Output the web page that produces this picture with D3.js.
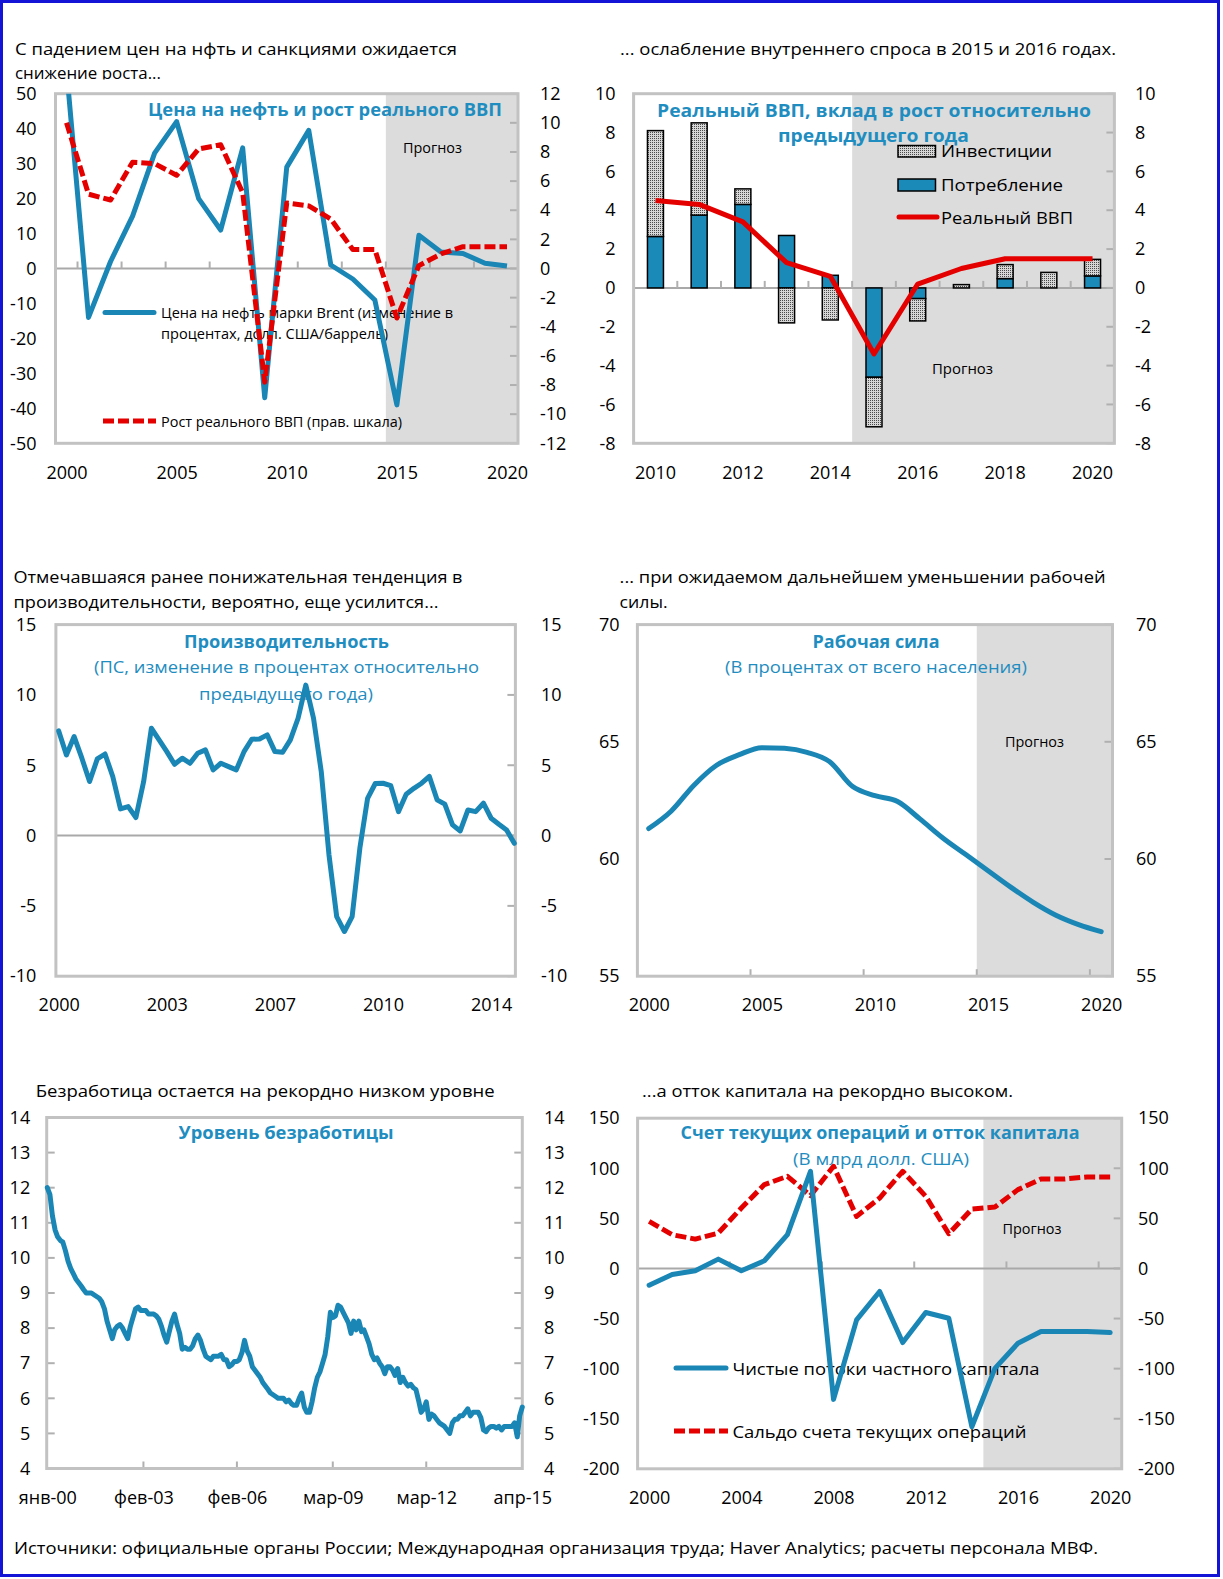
<!DOCTYPE html>
<html><head><meta charset="utf-8">
<script src="https://cdn.jsdelivr.net/npm/d3@7"></script>
<style>body{margin:0;background:#fff}svg{display:block}</style>
</head><body>
<svg id="c" width="1223" height="1579"></svg>
<script>
// ================= DATA =================
// Panel 1: oil price & real GDP growth
const oilYears = [2000,2001,2002,2003,2004,2005,2006,2007,2008,2009,2010,2011,2012,2013,2014,2015,2016,2017,2018,2019,2020];
const oilPrice = [57,-14,2,15,33,42,20,11,34.5,-37,29,39.5,1,-3,-9,-39,9.5,4.7,4.3,1.5,0.7];
const gdpGrowth = [10.0,5.1,4.7,7.3,7.2,6.4,8.2,8.5,5.2,-7.8,4.5,4.3,3.4,1.3,1.3,-3.4,0.2,1.0,1.5,1.5,1.5];
const p1LeftTicks = [-50,-40,-30,-20,-10,0,10,20,30,40,50];
const p1RightTicks = [-12,-10,-8,-6,-4,-2,0,2,4,6,8,10,12];
const p1XLabels = [2000,2005,2010,2015,2020];
const p1ZeroTickYears = [2001,2003,2005,2007,2009,2011,2013,2015,2017,2019];

// Panel 2: contributions to growth
const demandYears = [2010,2011,2012,2013,2014,2015,2016,2017,2018,2019,2020];
const consumption = [2.65,3.75,4.3,2.7,0.65,-4.6,-0.55,0,0.48,0,0.62];
const investment  = [5.45,4.75,0.8,-1.8,-1.65,-2.55,-1.15,0.17,0.72,0.8,0.85];
const realGdp     = [4.5,4.3,3.4,1.3,0.6,-3.4,0.2,1.0,1.5,1.5,1.5];
const p2Ticks = [-8,-6,-4,-2,0,2,4,6,8,10];
const p2XLabels = [2010,2012,2014,2016,2018,2020];

// Panel 3: productivity (quarterly, 2000Q1-2014Q4)
const productivity = [7.44,5.73,7.04,5.5,3.84,5.45,5.8,4.2,1.9,2.06,
  1.28,3.84,7.63,6.8,5.97,5.07,5.5,5.14,5.85,6.09,
  4.67,5.14,4.9,4.67,5.97,6.85,6.87,7.16,5.97,5.92,
  6.8,8.34,10.7,8.34,4.55,-1.37,-5.76,-6.82,-5.76,-0.9,
  2.65,3.7,3.72,3.55,1.7,2.94,3.36,3.72,4.2,2.54,
  2.23,0.76,0.33,1.82,1.7,2.3,1.23,0.8,0.4,-0.55];
const prodLabelIdx = [0,14,28,42,56];
const prodLabels = ["2000","2003","2007","2010","2014"];
const p3Ticks = [-10,-5,0,5,10,15];

// Panel 4: labour force
const laborYears = [2000,2001,2002,2003,2004,2005,2006,2007,2008,2009,2010,2011,2012,2013,2014,2015,2016,2017,2018,2019,2020];
const laborForce = [61.3,62.05,63.15,64.0,64.45,64.75,64.72,64.55,64.15,63.1,62.7,62.45,61.7,60.9,60.2,59.5,58.8,58.15,57.6,57.2,56.9];
const p4Ticks = [55,60,65,70];
const p4XLabels = [2000,2005,2010,2015,2020];
const p4BottomTickYears = [2005,2010,2015,2020];

// Panel 5: unemployment (monthly, Jan 2000 - Apr 2015)
const unempStart = [2000,0];
const unemployment = [
  12.0,11.8,11.2,10.8,10.6,10.5,10.45,10.2,9.9,9.7,
  9.55,9.4,9.3,9.2,9.1,9.0,9.0,9.0,8.95,8.9,
  8.85,8.75,8.55,8.2,7.95,7.7,7.95,8.05,8.1,8.0,
  7.85,7.7,8.05,8.3,8.55,8.6,8.5,8.5,8.5,8.4,
  8.4,8.4,8.35,8.25,8.05,7.8,7.6,7.9,8.2,8.4,
  8.1,7.85,7.4,7.45,7.4,7.4,7.5,7.7,7.8,7.65,
  7.4,7.2,7.15,7.1,7.2,7.2,7.2,7.25,7.1,7.1,
  6.9,6.95,7.05,7.05,7.1,7.3,7.65,7.35,7.2,6.9,
  6.8,6.7,6.6,6.45,6.35,6.25,6.15,6.1,6.05,6.0,
  6.0,6.0,5.9,5.95,5.85,5.8,5.8,6.0,6.15,5.75,
  5.6,5.6,5.9,6.3,6.6,6.75,7.0,7.25,7.75,8.45,
  8.3,8.35,8.65,8.6,8.45,8.3,8.15,7.85,8.2,7.95,
  8.2,7.9,7.95,7.75,7.55,7.25,7.1,7.15,7.0,6.9,
  6.7,6.9,6.9,6.8,6.65,6.85,6.45,6.6,6.45,6.35,
  6.4,6.3,6.25,5.95,5.6,5.7,5.9,5.4,5.55,5.5,
  5.4,5.3,5.25,5.2,5.1,5.0,5.3,5.4,5.4,5.5,
  5.5,5.6,5.7,5.5,5.6,5.6,5.6,5.45,5.1,5.05,
  5.15,5.2,5.2,5.15,5.2,5.1,5.2,5.2,5.2,5.2,
  5.3,4.9,5.5,5.75];
const unempTickDates = [[2000,0],[2003,1],[2006,1],[2009,2],[2012,2],[2015,3]];
const unempTickLabels = ["янв-00","фев-03","фев-06","мар-09","мар-12","апр-15"];
const p5Ticks = [4,5,6,7,8,9,10,11,12,13,14];

// Panel 6: current account and capital flows
const bopYears = [2000,2001,2002,2003,2004,2005,2006,2007,2008,2009,2010,2011,2012,2013,2014,2015,2016,2017,2018,2019,2020];
const capitalFlows = [-16.7,-6,-2.3,9.3,-2.3,7.7,33.7,97,-130.7,-51.3,-23,-74,-44,-49.7,-158,-99.7,-74.7,-63,-63,-63,-64];
const currentAccount = [47,33.7,29.3,35.3,60.3,83.7,92,72.7,102,52,70.3,97,72,34.7,59.3,61.3,78.7,89.3,89.3,91.3,91.3];
const p6Ticks = [-200,-150,-100,-50,0,50,100,150];
const p6XLabels = [2000,2004,2008,2012,2016,2020];
const p6ZeroTickYears = [2004,2008,2012,2016,2020];

// ================= STYLE =================
const FONT = '"Open Sans","Noto Sans",sans-serif';
const TEAL = "#1a86b6", TITLEC = "#1f8dc0", RED = "#e50000";
const SHADE = "#dcdcdc", FRAMEC = "#c2c2c2", ZEROC = "#a9a9a9", TICKC = "#b0b0b0";
const BAR_C = "#1a8ab8";
const LW = 5;

const svg = d3.select("#c").attr("font-family", FONT);
const defs = svg.append("defs");
const pat = defs.append("pattern").attr("id","stip").attr("width",2).attr("height",2).attr("patternUnits","userSpaceOnUse");
pat.append("rect").attr("width",2).attr("height",2).attr("fill","#d6d6d6");
pat.append("rect").attr("width",1).attr("height",1).attr("fill","#4a4a4a");

let clipN = 0;
function clipRect(L,R,T,B){
  const id = "cl"+(clipN++);
  defs.append("clipPath").attr("id",id).append("rect").attr("x",L).attr("y",T).attr("width",R-L).attr("height",B-T);
  return "url(#"+id+")";
}
function txt(g, s, x, y, o={}){
  const t = g.append("text").attr("x",x).attr("y",y).text(s)
    .attr("font-size", o.size||17).attr("fill", o.fill||"#000");
  if (o.bold) t.attr("font-weight","bold");
  if (o.anchor) t.attr("text-anchor", o.anchor);
  if (o.len) t.attr("textLength", o.len).attr("lengthAdjust","spacingAndGlyphs");
  return t;
}
function frame(g,L,R,T,B){
  g.append("rect").attr("x",L).attr("y",T).attr("width",R-L).attr("height",B-T)
   .attr("fill","none").attr("stroke",FRAMEC).attr("stroke-width",3);
}
function shade(g,x0,R,T,B){
  g.append("rect").attr("x",x0).attr("y",T).attr("width",R-x0).attr("height",B-T).attr("fill",SHADE);
}
function hline(g,L,R,y){
  g.append("line").attr("x1",L).attr("x2",R).attr("y1",y).attr("y2",y).attr("stroke",ZEROC).attr("stroke-width",2);
}
function vticks(g, xs, y, len){
  g.selectAll(null).data(xs).enter().append("line")
   .attr("x1",d=>d).attr("x2",d=>d).attr("y1",y).attr("y2",y-len)
   .attr("stroke",TICKC).attr("stroke-width",2);
}
function hticks(g, ys, x, len){
  g.selectAll(null).data(ys).enter().append("line")
   .attr("x1",x).attr("x2",x+len).attr("y1",d=>d).attr("y2",d=>d)
   .attr("stroke",TICKC).attr("stroke-width",2);
}
function yLabels(g, scale, vals, xPos, side){
  const ax = (side==="left"?d3.axisLeft(scale):d3.axisRight(scale))
    .tickValues(vals).tickSize(0).tickPadding(0).tickFormat(d=>String(d));
  const a = g.append("g").attr("transform",`translate(${xPos},0)`).call(ax);
  a.select(".domain").remove();
  a.attr("font-family",FONT).attr("font-size",18);
  a.selectAll("text").attr("fill","#000");
}
function xLabels(g, scale, vals, yBase, fmt){
  const ax = d3.axisBottom(scale).tickValues(vals).tickSize(0).tickPadding(0).tickFormat(fmt||(d=>String(d)));
  const a = g.append("g").attr("transform",`translate(0,${yBase})`).call(ax);
  a.select(".domain").remove();
  a.attr("font-family",FONT).attr("font-size",18);
  a.selectAll("text").attr("dy",null).attr("y",0).attr("fill","#000");
}
function legendLine(g, x1, x2, y, color, dash){
  g.append("line").attr("x1",x1).attr("x2",x2).attr("y1",y).attr("y2",y)
   .attr("stroke",color).attr("stroke-width",LW).attr("stroke-linecap",dash?"butt":"round")
   .attr("stroke-dasharray",dash||null);
}

// outer blue border
svg.append("rect").attr("x",1.5).attr("y",1.5).attr("width",1217).attr("height",1574)
  .attr("fill","none").attr("stroke","#1414d6").attr("stroke-width",3);

// ================= PANEL 1 =================
{
  const L=55.5,R=518,T=93.7,B=443.3;
  const g = svg.append("g");
  const x = d3.scalePoint().domain(oilYears).range([L,R]).padding(0.5);
  const yL = d3.scaleLinear().domain([-50,50]).range([B,T]);
  const yR = d3.scaleLinear().domain([-12,12]).range([B,T]);
  const capClip = clipRect(0,600,30,79.5);
  txt(g,"С падением цен на нфть и санкциями ожидается",15,55,{len:442});
  txt(g,"снижение роста...",15,79,{len:146,size:16.5}).attr("clip-path",capClip);
  shade(g, x(2015)-x.step()/2, R, T, B);
  hline(g,L,R,yL(0));
  vticks(g, p1ZeroTickYears.map(d=>x(d)-x.step()/2), yL(0), 7);
  hticks(g, p1RightTicks.map(d=>yR(d)), R-8, 8);
  frame(g,L,R,T,B);
  yLabels(g,yL,p1LeftTicks,36.5,"left");
  yLabels(g,yR,p1RightTicks,540,"right");
  xLabels(g,x,p1XLabels,479);
  txt(g,"Цена на нефть и рост реального ВВП",148,116,{bold:true,fill:TITLEC,size:18,len:354});
  txt(g,"Прогноз",403,153,{size:14,len:59});
  txt(g,"Цена на нефть марки Brent (изменение в",161,317.5,{size:14,len:292});
  txt(g,"процентах, долл. США/баррель)",161,339,{size:14,len:227});
  txt(g,"Рост реального ВВП (прав. шкала)",161,427,{size:14,len:241});
  legendLine(g,105,154,312.5,TEAL);
  legendLine(g,103,156,421,RED,"11,4");
  const cp = clipRect(L,R,T,B);
  const data = g.append("g").attr("clip-path",cp);
  data.append("path").datum(oilPrice).attr("fill","none").attr("stroke",TEAL).attr("stroke-width",LW)
    .attr("stroke-linejoin","round")
    .attr("d",d3.line().x((d,i)=>x(oilYears[i])).y(d=>yL(d)));
  data.append("path").datum(gdpGrowth).attr("fill","none").attr("stroke",RED).attr("stroke-width",LW)
    .attr("stroke-dasharray","11,4").attr("stroke-linejoin","round")
    .attr("d",d3.line().x((d,i)=>x(oilYears[i])).y(d=>yR(d)));
}

// ================= PANEL 2 =================
{
  const L=633.6,R=1114.4,T=93.7,B=443.3;
  const g = svg.append("g");
  const x = d3.scaleBand().domain(demandYears).range([L,R]).paddingInner(0.634).paddingOuter(0.317);
  const y = d3.scaleLinear().domain([-8,10]).range([B,T]);
  txt(g,"... ослабление внутреннего спроса в 2015 и  2016 годах.",620,55,{len:496});
  const step = x.step();
  shade(g, x(2015)+x.bandwidth()/2-step/2, R, T, B);
  hline(g,L,R,y(0));
  vticks(g, demandYears.slice(1).map(d=>x(d)+x.bandwidth()/2-step/2), y(0), 7);
  hticks(g, p2Ticks.map(d=>y(d)), R-8, 8);
  frame(g,L,R,T,B);
  yLabels(g,y,p2Ticks,615.5,"left");
  yLabels(g,y,p2Ticks,1135,"right");
  xLabels(g,x,p2XLabels,479);
  txt(g,"Реальный ВВП, вклад в рост относительно",657,117,{bold:true,fill:TITLEC,size:18,len:434});
  txt(g,"предыдущего года",778,142,{bold:true,fill:TITLEC,size:18,len:191});
  txt(g,"Прогноз",932,374,{size:14,len:61});
  // bars
  const rows = demandYears.map((yr,i)=>({year:yr, cons:consumption[i], inv:investment[i]}));
  const series = d3.stack().keys(["cons","inv"]).offset(d3.stackOffsetDiverging)(rows);
  series.forEach(s=>{
    const fill = s.key==="cons"?BAR_C:"url(#stip)";
    g.selectAll(null).data(s.filter(d=>Math.abs(d[1]-d[0])>0.01)).enter().append("rect")
      .attr("x",d=>x(d.data.year)).attr("width",x.bandwidth())
      .attr("y",d=>y(Math.max(d[0],d[1]))).attr("height",d=>Math.abs(y(d[0])-y(d[1])))
      .attr("fill",fill).attr("stroke","#000").attr("stroke-width",1.5);
  });
  g.append("path").datum(realGdp).attr("fill","none").attr("stroke",RED).attr("stroke-width",5)
    .attr("stroke-linejoin","round")
    .attr("d",d3.line().x((d,i)=>x(demandYears[i])+x.bandwidth()/2).y(d=>y(d)));
  // legend
  g.append("rect").attr("x",898).attr("y",145.5).attr("width",37.5).attr("height",11.5).attr("fill","url(#stip)").attr("stroke","#000").attr("stroke-width",1.5);
  g.append("rect").attr("x",898).attr("y",179).attr("width",37.5).attr("height",12).attr("fill",BAR_C).attr("stroke","#000").attr("stroke-width",1.5);
  legendLine(g,899,937,217,RED);
  txt(g,"Инвестиции",941,157,{len:111});
  txt(g,"Потребление",941,190.5,{len:122});
  txt(g,"Реальный ВВП",941,224,{len:132});
}

// ================= PANEL 3 =================
{
  const L=55.9,R=515.4,T=624.6,B=976.2;
  const g = svg.append("g");
  const x = d3.scalePoint().domain(productivity.map((d,i)=>i)).range([58.7,514.3]);
  const y = d3.scaleLinear().domain([-10,15]).range([B,T]);
  txt(g,"Отмечавшаяся ранее понижательная тенденция в",13.5,583,{len:449});
  txt(g,"производительности, вероятно, еще усилится...",13.5,608,{len:425});
  hline(g,L,R,y(0));
  hticks(g, p3Ticks.map(d=>y(d)), R-8, 8);
  frame(g,L,R,T,B);
  yLabels(g,y,p3Ticks,36.3,"left");
  yLabels(g,y,p3Ticks,541,"right");
  xLabels(g,x,prodLabelIdx,1011,(d,i)=>prodLabels[i]);
  txt(g,"Производительность",184,648,{bold:true,fill:TITLEC,size:18,len:205});
  txt(g,"(ПС, изменение в процентах относительно",94,673,{fill:TITLEC,size:17,len:385});
  txt(g,"предыдущего года)",199,699.5,{fill:TITLEC,size:17,len:174});
  g.append("path").datum(productivity).attr("fill","none").attr("stroke",TEAL).attr("stroke-width",LW)
    .attr("stroke-linejoin","round").attr("stroke-linecap","round")
    .attr("d",d3.line().x((d,i)=>x(i)).y(d=>y(d)));
}

// ================= PANEL 4 =================
{
  const L=637.4,R=1112.5,T=624.6,B=976.2;
  const g = svg.append("g");
  const x = d3.scalePoint().domain(laborYears).range([L,R]).padding(0.5);
  const y = d3.scaleLinear().domain([55,70]).range([B,T]);
  txt(g,"... при ожидаемом дальнейшем уменьшении рабочей",619.6,583,{len:486});
  txt(g,"силы.",619.6,608,{len:48});
  shade(g, x(2015)-x.step()/2, R, T, B);
  vticks(g, p4BottomTickYears.map(d=>x(d)-x.step()/2), B, 7);
  hticks(g, p4Ticks.map(d=>y(d)), R-8, 8);
  frame(g,L,R,T,B);
  yLabels(g,y,p4Ticks,619.6,"left");
  yLabels(g,y,p4Ticks,1136,"right");
  xLabels(g,x,p4XLabels,1011);
  txt(g,"Рабочая сила",812.5,648,{bold:true,fill:TITLEC,size:18,len:127});
  txt(g,"(В процентах от всего населения)",725,673,{fill:TITLEC,size:17,len:302});
  txt(g,"Прогноз",1005,746.5,{size:14,len:59});
  g.append("path").datum(laborForce).attr("fill","none").attr("stroke",TEAL).attr("stroke-width",LW)
    .attr("stroke-linejoin","round").attr("stroke-linecap","round")
    .attr("d",d3.line().x((d,i)=>x(laborYears[i])).y(d=>y(d)).curve(d3.curveMonotoneX));
}

// ================= PANEL 5 =================
{
  const L=46.7,R=522.3,T=1117.5,B=1468.5;
  const g = svg.append("g");
  const start = new Date(unempStart[0],unempStart[1],1);
  const dates = unemployment.map((d,i)=>d3.timeMonth.offset(start,i));
  const tickDates = unempTickDates.map(d=>new Date(d[0],d[1],1));
  const x = d3.scaleTime().domain([dates[0],dates[dates.length-1]]).range([47.3,522.3]);
  const y = d3.scaleLinear().domain([4,14]).range([B,T]);
  txt(g,"Безработица остается на рекордно низком уровне",35.7,1097,{len:459});
  vticks(g, tickDates.slice(1,5).map(d=>x(d)), B, 7);
  hticks(g, p5Ticks.map(d=>y(d)), L, 8);
  hticks(g, p5Ticks.map(d=>y(d)), R-8, 8);
  frame(g,L,R,T,B);
  yLabels(g,y,p5Ticks,30.2,"left");
  yLabels(g,y,p5Ticks,544,"right");
  xLabels(g,x,tickDates,1504,(d,i)=>unempTickLabels[i]);
  txt(g,"Уровень безработицы",178.6,1138.5,{bold:true,fill:TITLEC,size:18,len:215});
  g.append("path").datum(unemployment).attr("fill","none").attr("stroke",TEAL).attr("stroke-width",LW)
    .attr("stroke-linejoin","round").attr("stroke-linecap","round")
    .attr("d",d3.line().x((d,i)=>x(dates[i])).y(d=>y(d)));
}

// ================= PANEL 6 =================
{
  const L=637.6,R=1121.7,T=1118.2,B=1468.8;
  const g = svg.append("g");
  const x = d3.scalePoint().domain(bopYears).range([L,R]).padding(0.5);
  const y = d3.scaleLinear().domain([-200,150]).range([B,T]);
  txt(g,"...а отток капитала на рекордно высоком.",642,1097,{len:371});
  shade(g, x(2015)-x.step()/2, R, T, B);
  hline(g,L,R,y(0));
  vticks(g, p6ZeroTickYears.map(d=>x(d)-x.step()/2), y(0), 7);
  hticks(g, p6Ticks.map(d=>y(d)), R-8, 8);
  frame(g,L,R,T,B);
  yLabels(g,y,p6Ticks,619.6,"left");
  yLabels(g,y,p6Ticks,1138,"right");
  xLabels(g,x,p6XLabels,1504);
  txt(g,"Счет текущих операций и отток капитала",680.5,1138.5,{bold:true,fill:TITLEC,size:18,len:399});
  txt(g,"(В млрд долл. США)",793,1165,{fill:TITLEC,size:17,len:176});
  txt(g,"Прогноз",1002.5,1234,{size:14,len:59});
  txt(g,"Чистые потоки частного капитала",732.4,1375,{size:17,len:307});
  txt(g,"Сальдо счета текущих операций",732.4,1437.6,{size:17,len:294});
  legendLine(g,676,726,1368,TEAL);
  legendLine(g,674,728,1431,RED,"11,4");
  g.append("path").datum(currentAccount).attr("fill","none").attr("stroke",RED).attr("stroke-width",LW)
    .attr("stroke-dasharray","11,4").attr("stroke-linejoin","round")
    .attr("d",d3.line().x((d,i)=>x(bopYears[i])).y(d=>y(d)));
  g.append("path").datum(capitalFlows).attr("fill","none").attr("stroke",TEAL).attr("stroke-width",LW)
    .attr("stroke-linejoin","round").attr("stroke-linecap","round")
    .attr("d",d3.line().x((d,i)=>x(bopYears[i])).y(d=>y(d)));
}

// footer
txt(svg,"Источники: официальные органы России; Международная организация труда; Haver Analytics; расчеты персонала МВФ.",14,1554,{size:16,len:1084});
</script>
</body></html>
